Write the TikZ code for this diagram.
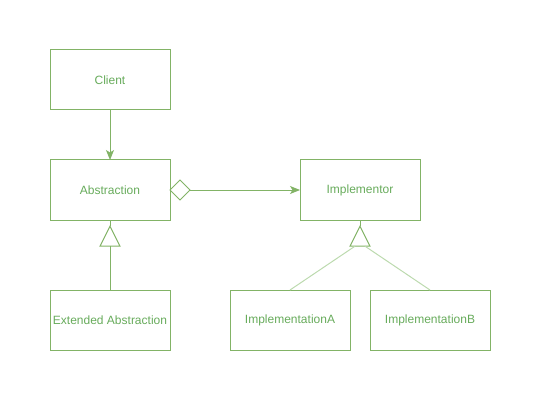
\documentclass[tikz,border=0pt]{standalone}
\usepackage{fontspec}
\setmainfont{Liberation Sans}
\usepackage{tikz}
\usetikzlibrary{arrows.meta,shapes.geometric}
\definecolor{lgreen}{HTML}{82B366}
\definecolor{tgreen}{HTML}{67AB5B}
\definecolor{pgreen}{HTML}{BCDAAE}

\begin{document}
\begin{tikzpicture}[x=1pt,y=-1pt,->,>={Stealth[length=10pt,width=8pt,inset=2.5pt]},
  line width=1pt,draw=lgreen,
  class node/.style={rectangle,draw=lgreen,minimum width=120pt,minimum height=60pt,
        inner sep=0pt,outer sep=0pt,text=tgreen,font=\fontsize{12}{14}\selectfont},
  open tri/.style={isosceles triangle,shape border rotate=90,isosceles triangle stretches,
        draw=lgreen,minimum width=20pt,minimum height=20pt,inner sep=0pt,outer sep=0pt},
  open diam/.style={diamond,draw=lgreen,minimum width=20pt,minimum height=20pt,
        inner sep=0pt,outer sep=0pt}]
  \useasboundingbox (0,0) rectangle (541,401);
  \node[class node] (client) at (110,80) {Client};
  \node[class node] (abs) at (110,190) {Abstraction};
  \node[class node] (ext) at (110,320) {Extended Abstraction};
  \node[class node] (impl) at (360,190) {Implementor};
  \node[class node] (implA) at (290,320) {ImplementationA};
  \node[class node] (implB) at (430,320) {ImplementationB};

  \node[open diam] (agg) at (180,190) {};
  \node[open tri] (triA) at (110,240) {};
  \node[open tri] (triB) at (360,240) {};

  \path[draw=lgreen]
    (client) edge (abs)
    (agg) edge (impl);
  \path[-,draw=lgreen]
    (abs) edge (triA.apex)
    (triA.south) edge (ext)
    (impl) edge (triB.apex);
  \path[-,draw=pgreen]
    ([xshift=-5pt]triB.south) edge (implA.north)
    ([xshift=5pt]triB.south) edge (implB.north);
\end{tikzpicture}
\end{document}
